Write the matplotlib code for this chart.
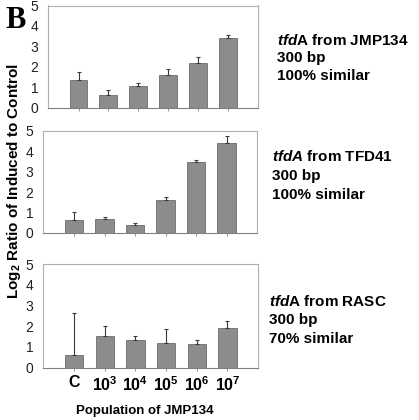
import matplotlib.pyplot as plt

# Fuentes: Arial -> Liberation Sans, con mathtext en negrita para subíndices y cursivas
plt.rcParams['font.family'] = 'Liberation Sans'
plt.rcParams['mathtext.fontset'] = 'custom'
plt.rcParams['mathtext.rm'] = 'Liberation Sans:bold'
plt.rcParams['mathtext.it'] = 'Liberation Sans:italic:bold'
plt.rcParams['mathtext.bf'] = 'Liberation Sans:bold'

# Datos
poblaciones = ['C', '10$^3$', '10$^4$', '10$^5$', '10$^6$', '10$^7$']
jmp134 = [1.35, 0.61, 1.07, 1.58, 2.19, 3.41]
jmp134_err = [0.39, 0.25, 0.12, 0.33, 0.28, 0.15]
tfd41 = [0.65, 0.70, 0.39, 1.60, 3.46, 4.42]
tfd41_err = [0.39, 0.10, 0.12, 0.18, 0.12, 0.33]
rasc = [0.58, 1.53, 1.31, 1.18, 1.13, 1.90]
rasc_err = [2.07, 0.49, 0.22, 0.66, 0.22, 0.33]

titulos = [r'$\mathit{tfd}$A from JMP134', r'$\mathit{tfdA}$ from TFD41', r'$\mathit{tfd}$A from RASC']
longitudes = ['300 bp', '300 bp', '300 bp']
similitudes = ['100% similar', '100% similar', '70% similar']


def diagrama_barras(ax, valores, errores):
    '''Dibuja las barras grises con la barra de error solo hacia arriba.'''
    x = range(len(valores))
    ax.bar(x, valores, width=0.6, color='#8c8c8c', edgecolor='#5a5a5a', linewidth=0.5)
    ax.errorbar(x, valores, yerr=[[0] * len(errores), errores], fmt='none',
                ecolor='#3a3a3a', elinewidth=0.8, capsize=1.5, capthick=0.8)
    ax.set_xlim(-1.02, 6.0)
    ax.set_ylim(0, 5)
    ax.set_yticks(range(6))
    ax.set_xticks(list(x))
    ax.set_xticklabels([])
    for lado in ['top', 'right', 'left']:
        ax.spines[lado].set_color('#b0b0b0')
        ax.spines[lado].set_linewidth(0.8)
    ax.spines['bottom'].set_color('#808080')
    ax.spines['bottom'].set_linewidth(0.8)
    ax.tick_params(axis='y', length=0, labelsize=10, pad=7, labelcolor='#222222')
    ax.tick_params(axis='x', length=2.5, width=0.6, color='#808080')
    return ax


fig = plt.figure(figsize=(4.19, 4.20), dpi=100)
W, H = 419, 420

# Posición de cada panel en píxeles: izquierda, arriba, derecha, abajo
cajas = [(48, 5.5, 258, 107.5), (43, 131, 257, 233), (43, 264, 258, 367.5)]
series = [(jmp134, jmp134_err), (tfd41, tfd41_err), (rasc, rasc_err)]
ejes = []
for (l, t, r, b), (valores, errores) in zip(cajas, series):
    ax = fig.add_axes([l / W, 1 - b / H, (r - l) / W, (b - t) / H])
    diagrama_barras(ax, valores, errores)
    ejes.append(ax)

# Etiquetas del eje x solo en el último panel
ejes[2].set_xticklabels(poblaciones, fontsize=11.5, fontweight='bold')
ejes[2].tick_params(axis='x', pad=3)

# Textos de la derecha
posiciones_texto = [(277, [45, 62, 80]), (272, [161, 180, 199]), (269, [306, 324, 343])]
for i, (xt, ys) in enumerate(posiciones_texto):
    for texto, yt in zip([titulos[i], longitudes[i], similitudes[i]], ys):
        fig.text(xt / W, 1 - yt / H, texto, fontsize=11, fontweight='bold', va='baseline')

# Título del eje y, del eje x y la letra del panel
fig.text(14 / W, 1 - 181 / H, r'Log$_{\mathbf{2}}$ Ratio of Induced to Control', rotation=90,
         fontsize=11, fontweight='bold', ha='center', va='center')
fig.text(145 / W, 1 - 411 / H, 'Population of JMP134', fontsize=9.5, fontweight='bold',
         ha='center', va='center')
fig.text(16 / W, 1 - 21 / H, 'B', family='Liberation Serif', fontsize=22, fontweight='bold',
         ha='center', va='center')

plt.savefig('out.png', dpi=100)
